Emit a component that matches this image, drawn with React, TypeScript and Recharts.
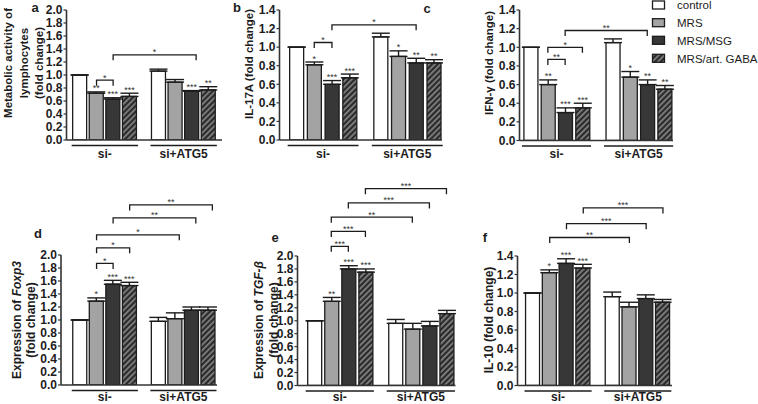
import React from 'react';
import { BarChart, Bar, XAxis, YAxis, Cell, ErrorBar, LabelList, ReferenceLine } from 'recharts';

const FONT = '"Liberation Sans", Arial, Helvetica, sans-serif';
const INK = '#1c1c1c';

const SERIES = ['control', 'MRS', 'MRS/MSG', 'MRS/art. GABA'];
const CONDITIONS = ['si-', 'si+ATG5'];
const BAR_POS = [0, 1, 2, 3, 4.75, 5.75, 6.75, 7.75];
const COND_POS = [1.5, 6.25];

const TICKS_20 = [0, 0.2, 0.4, 0.6, 0.8, 1.0, 1.2, 1.4, 1.6, 1.8, 2.0];
const TICKS_14 = [0, 0.2, 0.4, 0.6, 0.8, 1.0, 1.2, 1.4];

// panel a – metabolic activity
const aValues = [1.0, 0.72, 0.63, 0.67, 1.06, 0.89, 0.75, 0.77];
const aErrors = [0, 0.02, 0.02, 0.05, 0.03, 0.04, 0.01, 0.05];
const aStars = ['', '**', '***', '***', '', '', '***', '**'];
const aBrackets: [number, number, number, string][] = [[1, 2, 0.92, '*'], [2, 7.0, 1.31, '*']];

// panel b – IL-17A
const bValues = [1.0, 0.81, 0.6, 0.67, 1.11, 0.9, 0.83, 0.83];
const bErrors = [0, 0.03, 0.04, 0.04, 0.04, 0.06, 0.05, 0.035];
const bStars = ['', '*', '***', '***', '', '*', '**', '**'];
const bBrackets: [number, number, number, string][] = [[1, 2, 1.05, '*'], [2, 6.75, 1.24, '*']];

// panel c – IFN-γ
const cValues = [1.0, 0.6, 0.3, 0.35, 1.05, 0.68, 0.6, 0.55];
const cErrors = [0, 0.05, 0.05, 0.05, 0.04, 0.06, 0.05, 0.04];
const cStars = ['', '**', '***', '***', '', '*', '**', '**'];
const cBrackets: [number, number, number, string][] = [[1, 2, 0.87, '**'], [1, 3, 1.0, '*'], [2, 6.75, 1.18, '**']];

// panel d – Foxp3
const dValues = [1.0, 1.29, 1.55, 1.53, 0.98, 1.02, 1.15, 1.15];
const dErrors = [0, 0.05, 0.06, 0.05, 0.06, 0.09, 0.05, 0.05];
const dStars = ['', '*', '***', '***', '', '', '', ''];
const dBrackets: [number, number, number, string][] = [
  [1, 2, 1.87, '*'], [1, 3, 2.11, '*'], [1, 6.0, 2.31, '*'], [2, 7.0, 2.57, '**'], [3, 8.0, 2.77, '**'],
];

// panel e – TGF-β
const eValues = [1.0, 1.3, 1.8, 1.75, 0.96, 0.87, 0.92, 1.11];
const eErrors = [0, 0.06, 0.05, 0.05, 0.06, 0.09, 0.07, 0.05];
const eStars = ['', '**', '***', '***', '', '', '', ''];
const eBrackets: [number, number, number, string][] = [
  [1, 2, 2.15, '***'], [1, 3, 2.38, '***'], [1, 5.75, 2.6, '**'], [2, 6.75, 2.82, '***'], [3, 7.75, 3.04, '***'],
];

// panel f – IL-10
const fValues = [1.0, 1.22, 1.32, 1.27, 0.96, 0.85, 0.94, 0.9];
const fErrors = [0, 0.03, 0.05, 0.04, 0.05, 0.05, 0.04, 0.03];
const fStars = ['', '*', '***', '***', '', '', '', ''];
const fBrackets: [number, number, number, string][] = [
  [1, 5.75, 1.6, '**'], [2, 6.75, 1.75, '***'], [3, 7.75, 1.92, '***'],
];

const FILLS = ['#ffffff', '#a3a3a3', '#373737', 'url(#hatch)'];

type PanelCfg = {
  id: string;
  box: { left: number; top: number; width: number; height: number };
  plot: { x0: number; y0: number; x1: number; y1: number };
  xDomain: [number, number];
  yMax: number;
  yTicks: number[];
  values: number[];
  errors: number[];
  stars: string[];
  brackets: [number, number, number, string][];
  labelDy: number;
};

const PANELS: PanelCfg[] = [
  { id: 'a', box: { left: 0, top: 0, width: 232, height: 178 }, plot: { x0: 66.5, y0: 10, x1: 222, y1: 140 },
    xDomain: [-0.81, 8.56], yMax: 2, yTicks: TICKS_20, values: aValues, errors: aErrors, stars: aStars, brackets: aBrackets, labelDy: 17.5 },
  { id: 'b', box: { left: 232, top: 0, width: 218, height: 178 }, plot: { x0: 279.5, y0: 10, x1: 442, y1: 140 },
    xDomain: [-0.96, 8.21], yMax: 1.4, yTicks: TICKS_14, values: bValues, errors: bErrors, stars: bStars, brackets: bBrackets, labelDy: 17.5 },
  { id: 'c', box: { left: 470, top: 0, width: 210, height: 178 }, plot: { x0: 519.5, y0: 10, x1: 673, y1: 140.5 },
    xDomain: [-0.64, 8.24], yMax: 1.4, yTicks: TICKS_14, values: cValues, errors: cErrors, stars: cStars, brackets: cBrackets, labelDy: 17.5 },
  { id: 'd', box: { left: 0, top: 178, width: 232, height: 226 }, plot: { x0: 61, y0: 255, x1: 217, y1: 385 },
    xDomain: [-1.15, 8.28], yMax: 2, yTicks: TICKS_20, values: dValues, errors: dErrors, stars: dStars, brackets: dBrackets, labelDy: 15.8 },
  { id: 'e', box: { left: 232, top: 178, width: 238, height: 226 }, plot: { x0: 297.5, y0: 256, x1: 455.5, y1: 385.5 },
    xDomain: [-0.98, 8.28], yMax: 2, yTicks: TICKS_20, values: eValues, errors: eErrors, stars: eStars, brackets: eBrackets, labelDy: 15.3 },
  { id: 'f', box: { left: 470, top: 178, width: 210, height: 226 }, plot: { x0: 517.5, y0: 256, x1: 672, y1: 385.5 },
    xDomain: [-0.92, 8.29], yMax: 1.4, yTicks: TICKS_14, values: fValues, errors: fErrors, stars: fStars, brackets: fBrackets, labelDy: 15.3 },
];

const Y_AXIS_W = 36;
const X_AXIS_H = 30;

function GroupTick(props: any) {
  const { x, y, payload, w, dy } = props;
  let idx = 0;
  COND_POS.forEach((p, i) => { if (Math.abs(p - payload.value) < 1e-6) idx = i; });
  return (
    <g>
      <line x1={x - w / 2} x2={x + w / 2} y1={y + 5.5} y2={y + 5.5} stroke={INK} strokeWidth={1.4} />
      <text x={x} y={y + dy} textAnchor="middle" fontFamily={FONT} fontSize={12} fontWeight={700} fill={INK}>
        {CONDITIONS[idx]}
      </text>
    </g>
  );
}

function BracketShape(props: any) {
  const { x1, y1, x2, label } = props;
  const leg = 5.5;
  return (
    <g>
      <path d={`M${x1},${y1 + leg} V${y1} H${x2} V${y1 + leg}`} fill="none" stroke={INK} strokeWidth={1.3} />
      <text x={(x1 + x2) / 2} y={y1 + 0.5} textAnchor="middle" fontFamily={FONT} fontSize={9} fill="#333">
        {label}
      </text>
    </g>
  );
}

function Panel({ cfg }: { cfg: PanelCfg }) {
  const { box, plot, xDomain, yMax } = cfg;
  const margin = {
    left: plot.x0 - box.left - Y_AXIS_W,
    top: plot.y0 - box.top,
    right: box.left + box.width - plot.x1,
    bottom: box.top + box.height - plot.y1 - X_AXIS_H,
  };
  const data = cfg.values.map((v, i) => ({
    pos: BAR_POS[i],
    value: v,
    err: [0, cfg.errors[i]],
    stars: cfg.stars[i],
    series: i % 4,
  }));
  const pxX = (plot.x1 - plot.x0) / (xDomain[1] - xDomain[0]);
  const pxY = (plot.y1 - plot.y0) / yMax;

  const starContent = (p: any) => {
    const { x, y, width, index, value } = p;
    if (!value) return null;
    const e = data[index] ? data[index].err[1] : 0;
    const top = y - e * pxY;
    return (
      <text x={x + width / 2} y={top - 0.5} textAnchor="middle" fontFamily={FONT} fontSize={9} fill="#333">
        {value}
      </text>
    );
  };

  return (
    <div style={{ position: 'absolute', left: box.left, top: box.top }}>
      <BarChart width={box.width} height={box.height} data={data} margin={margin}>
        <XAxis
          type="number"
          dataKey="pos"
          domain={xDomain}
          allowDataOverflow
          ticks={COND_POS}
          interval={0}
          height={X_AXIS_H}
          tickLine={false}
          tickSize={0}
          tickMargin={0}
          axisLine={{ stroke: '#333', strokeWidth: 1.6 }}
          tick={(p: any) => <GroupTick {...p} w={4 * pxX} dy={cfg.labelDy} />}
        />
        <YAxis
          type="number"
          domain={[0, yMax]}
          allowDataOverflow
          ticks={cfg.yTicks}
          interval={0}
          width={Y_AXIS_W}
          tickSize={3}
          tickMargin={1}
          tickFormatter={(v: number) => v.toFixed(1)}
          tick={{ fontSize: 12, fontWeight: 700, fill: INK, fontFamily: FONT }}
          axisLine={{ stroke: '#333', strokeWidth: 1.6 }}
          tickLine={{ stroke: '#333', strokeWidth: 1.2 }}
        />
        <Bar dataKey="value" barSize={14} isAnimationActive={false} stroke={INK} strokeWidth={1.3}>
          {data.map((d, i) => (
            <Cell key={i} fill={FILLS[d.series]} />
          ))}
          <ErrorBar dataKey="err" width={9} stroke={INK} strokeWidth={1.4} direction="y" isAnimationActive={false} />
          <LabelList dataKey="stars" content={starContent} />
        </Bar>
        {cfg.brackets.map((b, i) => (
          <ReferenceLine
            key={i}
            segment={[{ x: b[0], y: b[2] }, { x: b[1], y: b[2] }]}
            ifOverflow="visible"
            shape={(p: any) => <BracketShape {...p} label={b[3]} />}
          />
        ))}
      </BarChart>
    </div>
  );
}

type Seg = { t: string; it?: boolean };
const Y_LABELS: { lines: Seg[][]; xs: number[]; cy: number; fs: number }[] = [
  { lines: [[{ t: 'Metabolic activity of' }], [{ t: 'lymphocytes' }], [{ t: '(fold change)' }]], xs: [8, 23.5, 39], cy: 63, fs: 11.5 },
  { lines: [[{ t: 'IL-17A (fold change)' }]], xs: [249], cy: 64, fs: 11.5 },
  { lines: [[{ t: 'IFN-γ (fold change)' }]], xs: [489], cy: 63, fs: 11.5 },
  { lines: [[{ t: 'Expression of ' }, { t: 'Foxp3', it: true }], [{ t: '(fold change)' }]], xs: [16.5, 31], cy: 320, fs: 12 },
  { lines: [[{ t: 'Expression of ' }, { t: 'TGF-β', it: true }], [{ t: '(fold change)' }]], xs: [259, 274], cy: 320, fs: 12 },
  { lines: [[{ t: 'IL-10 (fold change)' }]], xs: [489], cy: 320, fs: 12 },
];

const LETTERS: { t: string; x: number; y: number }[] = [
  { t: 'a', x: 35, y: 12 },
  { t: 'b', x: 237, y: 12 },
  { t: 'c', x: 427, y: 13 },
  { t: 'd', x: 38, y: 238 },
  { t: 'e', x: 275, y: 242 },
  { t: 'f', x: 485, y: 242 },
];

const LEGEND_Y = [5, 22.7, 40.3, 58.3];

export default function App() {
  return (
    <div style={{ position: 'absolute', left: 0, top: 0, width: 758, height: 404, background: '#fff', overflow: 'hidden' }}>
      <svg width={758} height={404} style={{ position: 'absolute', left: 0, top: 0 }}>
        <defs>
          <pattern id="hatch" patternUnits="userSpaceOnUse" width={4} height={4} patternTransform="rotate(45)">
            <rect width={4} height={4} fill="#2b2b2b" />
            <rect width={1.6} height={4} fill="#8a8a8a" />
          </pattern>
        </defs>
      </svg>
      {PANELS.map((p) => (
        <Panel key={p.id} cfg={p} />
      ))}
      <svg width={758} height={404} style={{ position: 'absolute', left: 0, top: 0, pointerEvents: 'none' }}>
        {Y_LABELS.map((lab, li) =>
          lab.lines.map((segs, k) => (
            <text
              key={`${li}-${k}`}
              transform={`translate(${lab.xs[k] + 0.35 * lab.fs},${lab.cy}) rotate(-90)`}
              textAnchor="middle"
              fontFamily={FONT}
              fontSize={lab.fs}
              fontWeight={700}
              fill={INK}
            >
              {segs.map((s, j) => (
                <tspan key={j} fontStyle={s.it ? 'italic' : 'normal'}>{s.t}</tspan>
              ))}
            </text>
          ))
        )}
        {LETTERS.map((l) => (
          <text key={l.t} x={l.x} y={l.y} textAnchor="middle" fontFamily={FONT} fontSize={13} fontWeight={700} fill={INK}>
            {l.t}
          </text>
        ))}
        {SERIES.map((s, i) => (
          <g key={s}>
            <rect x={652.5} y={LEGEND_Y[i] - 4} width={12} height={8} fill={FILLS[i]} stroke={INK} strokeWidth={1.3} />
            <text x={677} y={LEGEND_Y[i] + 4.2} fontFamily={FONT} fontSize={11.5} fill={INK}>
              {s}
            </text>
          </g>
        ))}
      </svg>
    </div>
  );
}
